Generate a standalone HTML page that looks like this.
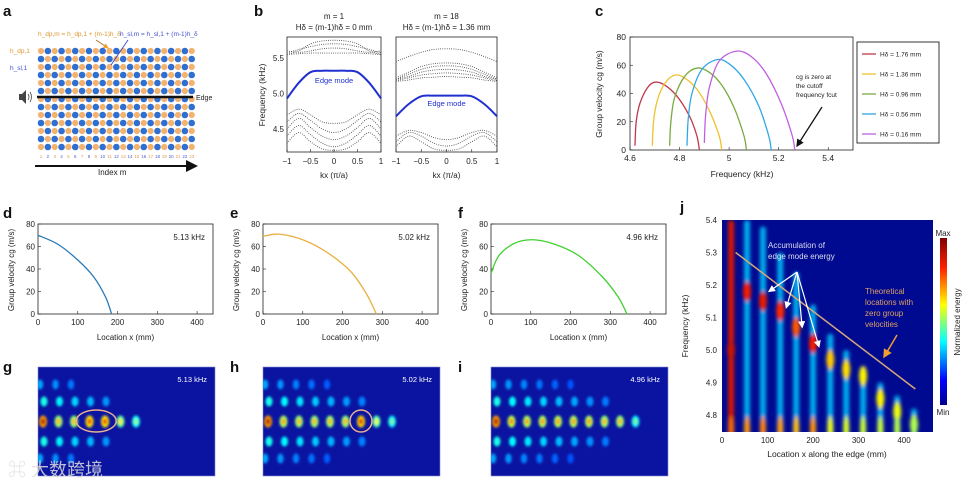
<!DOCTYPE html>
<html><head><meta charset="utf-8"><style>
body{margin:0;background:#fff;}
svg{display:block;font-family:"Liberation Sans","Noto Sans CJK SC",sans-serif;}
</style></head><body>
<svg id="fig" width="971" height="484" viewBox="0 0 971 484">
<defs>
<filter id="bl" x="-50%" y="-50%" width="200%" height="200%"><feGaussianBlur stdDeviation="1.8"/></filter>
<filter id="bl2" x="-50%" y="-50%" width="200%" height="200%"><feGaussianBlur stdDeviation="1.2"/></filter>
<linearGradient id="jet" x1="0" y1="1" x2="0" y2="0">
<stop offset="0" stop-color="#00008f"/><stop offset="0.15" stop-color="#0000ff"/><stop offset="0.38" stop-color="#00ffff"/>
<stop offset="0.6" stop-color="#ffff00"/><stop offset="0.82" stop-color="#ff2000"/><stop offset="1" stop-color="#800000"/></linearGradient>
<marker id="ab" markerWidth="6" markerHeight="6" refX="5" refY="3" orient="auto"><path d="M0,0L6,3L0,6z" fill="#111"/></marker>
<marker id="aw" markerWidth="6" markerHeight="6" refX="5" refY="3" orient="auto"><path d="M0,0L6,3L0,6z" fill="#fff"/></marker>
<marker id="ao" markerWidth="6" markerHeight="6" refX="5" refY="3" orient="auto"><path d="M0,0L6,3L0,6z" fill="#f0a030"/></marker>
</defs>
<g font-weight="bold" font-size="15" fill="#111">
<text x="3" y="16">a</text>
<text x="254" y="16">b</text>
<text x="595" y="16">c</text>
<text x="3" y="218">d</text>
<text x="230" y="218">e</text>
<text x="458" y="218">f</text>
<text x="3" y="372">g</text>
<text x="230" y="372">h</text>
<text x="458" y="372">i</text>
<text x="680" y="212">j</text>
</g>
<g id="pa"></g>
<g id="pb"></g>
<g id="pc"></g>
<g id="pdef"></g>
<g id="pghi"></g>
<g id="pj"></g>
<text x="8" y="476" font-size="18" fill="#ddd" opacity="0.85">⌘ 大数跨境</text>
</svg>
<script>
// ---- panel c data ----
const cLabels=["1.76 mm","1.36 mm","0.96 mm","0.56 mm","0.16 mm"];
const cColors=["#c0394a","#f0c030","#7aaa40","#30a8e8","#c060e0"];
const cRed=[[4.62,3],[4.625,20],[4.64,33],[4.67,44],[4.70,48],[4.74,46],[4.79,38],[4.84,24],[4.87,10],[4.88,0]];
const cYellow=[[4.69,3],[4.695,20],[4.71,35],[4.74,47],[4.78,53],[4.82,51],[4.87,43],[4.92,28],[4.96,10],[4.97,0]];
const cGreen=[[4.76,3],[4.765,20],[4.78,37],[4.82,52],[4.87,58],[4.92,55],[4.97,46],[5.02,30],[5.06,10],[5.07,0]];
const cBlue=[[4.83,3],[4.835,22],[4.85,40],[4.89,57],[4.95,64],[5.0,61],[5.06,50],[5.12,31],[5.16,10],[5.17,0]];
const cPurple=[[4.90,5],[4.905,24],[4.92,44],[4.96,63],[5.03,70],[5.09,66],[5.15,54],[5.21,33],[5.255,10],[5.265,0]];
const cSeries=[cRed,cYellow,cGreen,cBlue,cPurple];
const cXTicks=[4.6,4.8,5,5.2,5.4];
const cYTicks=[0,20,40,60,80];
// ---- panels d,e,f ----
const dPts=[[0,70],[50,62],[100,48],[140,33],[170,15],[185,0]];
const ePts=[[0,69],[40,71],[100,66],[160,55],[220,38],[260,18],[285,0]];
const fPts=[[0,36],[20,52],[60,63],[105,66],[160,62],[220,52],[280,33],[320,15],[342,0]];
const defFreqs=["5.13 kHz","5.02 kHz","4.96 kHz"];
const defXTicks=[0,100,200,300,400];
const defYTicks=[0,20,40,60,80];
// ---- panel b ----
const bK=[-1,-0.75,-0.5,-0.25,0,0.25,0.5,0.75,1];
const bEdgeL=[4.93,5.15,5.30,5.32,5.32,5.32,5.30,5.15,4.93];
const bEdgeR=[4.68,4.85,4.96,4.97,4.97,4.97,4.96,4.85,4.68];
const bBandsL=[[5.55,5.6,5.7,5.74,5.75,5.74,5.7,5.6,5.55],[5.57,5.62,5.66,5.69,5.7,5.69,5.66,5.62,5.57],[5.6,5.58,5.6,5.63,5.64,5.63,5.6,5.58,5.6],[5.55,5.56,5.57,5.57,5.57,5.57,5.57,5.56,5.55],
 [4.7,4.78,4.7,4.6,4.58,4.6,4.7,4.78,4.7],[4.6,4.72,4.62,4.5,4.45,4.5,4.62,4.72,4.6],[4.5,4.65,4.52,4.4,4.35,4.4,4.52,4.65,4.5],[4.4,4.55,4.42,4.3,4.25,4.3,4.42,4.55,4.4],[4.3,4.45,4.32,4.22,4.2,4.22,4.32,4.45,4.3]];
const bBandsR=[[5.45,5.52,5.58,5.62,5.63,5.62,5.58,5.52,5.45],[5.22,5.3,5.38,5.42,5.43,5.42,5.38,5.3,5.22],[5.2,5.27,5.34,5.38,5.39,5.38,5.34,5.27,5.2],[5.2,5.24,5.3,5.33,5.34,5.33,5.3,5.24,5.2],[5.18,5.22,5.26,5.28,5.29,5.28,5.26,5.22,5.18],[5.17,5.19,5.22,5.23,5.24,5.23,5.22,5.19,5.17],
 [4.4,4.48,4.45,4.38,4.35,4.38,4.45,4.48,4.4],[4.32,4.45,4.4,4.3,4.26,4.3,4.4,4.45,4.32],[4.25,4.4,4.32,4.22,4.2,4.22,4.32,4.4,4.25]];
const bXTicks=[-1,-0.5,0,0.5,1];
const bYTicks=[4.5,5.0,5.5];
// ---- panel j ----
const jStripeX=[20,55,90,128,163,200,238,273,310,348,385,422];
const jStripeTop=[5.4,5.4,5.38,5.3,5.24,5.14,5.05,5.0,4.95,4.9,4.86,4.82];
const jHotF=[5.0,5.18,5.15,5.12,5.07,5.02,4.97,4.94,4.92,4.85,4.81,4.77];
const jHotLevel=[1,0.85,0.9,0.8,0.7,0.85,0.45,0.4,0.35,0.35,0.3,0.25];
const jXTicks=[0,100,200,300,400];
const jYTicks=[4.8,4.9,5.0,5.1,5.2,5.3,5.4];
// ---- panels g,h,i ----
const gLevel=[1,0.5,0.5,0.8,0.8,0.4,0.2];
const hLevel=[1,0.55,0.5,0.5,0.5,0.5,0.85,0.35,0.15];
const iLevel=[1,0.6,0.55,0.55,0.55,0.55,0.55,0.5,0.5,0.15];

const NS="http://www.w3.org/2000/svg";
function mk(p,t,a,txt){const e=document.createElementNS(NS,t);for(const k in a)e.setAttribute(k,a[k]);if(txt!==undefined)e.textContent=txt;p.appendChild(e);return e;}
function lin(d0,d1,r0,r1){return v=>r0+(v-d0)/(d1-d0)*(r1-r0);}
function smooth(pts){let d="M"+pts[0][0]+","+pts[0][1];for(let i=0;i<pts.length-1;i++){const p0=pts[i-1]||pts[i],p1=pts[i],p2=pts[i+1],p3=pts[i+2]||p2;
 d+=" C"+(p1[0]+(p2[0]-p0[0])/6)+","+(p1[1]+(p2[1]-p0[1])/6)+" "+(p2[0]-(p3[0]-p1[0])/6)+","+(p2[1]-(p3[1]-p1[1])/6)+" "+p2[0]+","+p2[1];}return d;}
function jet(v){const s=[[0,[0,0,143]],[0.15,[0,0,255]],[0.38,[0,255,255]],[0.6,[255,255,0]],[0.82,[255,32,0]],[1,[128,0,0]]];
 for(let i=0;i<s.length-1;i++){if(v<=s[i+1][0]){const t=(v-s[i][0])/(s[i+1][0]-s[i][0]);const c=s[i][1].map((x,j)=>Math.round(x+(s[i+1][1][j]-x)*t));return "rgb("+c.join(",")+")";}}return "rgb(128,0,0)";}

// ===== Panel a =====
(function(){const g=document.getElementById('pa');
 for(let i=0;i<23;i++){for(let j=0;j<13;j++){const x=41+i*6.85,y=51+j*8;const orange=(i+j)%2===0;
  const c=mk(g,'circle',{cx:x,cy:y,r:orange?3.1:3.3,fill:orange?'#f3b36e':'#2f6fd2'});
  
  }
  const t=mk(g,'text',{x:41+i*6.85,y:158,'font-size':4.5,'text-anchor':'middle',fill:i%2===0?'#e09a50':'#5060d0'},String(i+1));
  
  }
 mk(g,'line',{x1:37,y1:97,x2:193,y2:97,stroke:'#111','stroke-width':2.5,});
 mk(g,'text',{x:196,y:100,'font-size':7,fill:'#222',},'Edge');
 mk(g,'path',{d:'M19,94h3l4,-4v14l-4,-4h-3z',fill:'#444',});
 mk(g,'path',{d:'M28,94q2,3 0,6M30,92q3,5 0,10',fill:'none',stroke:'#444','stroke-width':0.8});
 mk(g,'line',{x1:35,y1:166,x2:196,y2:166,stroke:'#111','stroke-width':2,'marker-end':'url(#ab)',});
 mk(g,'text',{x:98,y:175,'font-size':8,fill:'#222',},'Index m');
 mk(g,'text',{x:38,y:36,'font-size':6.5,fill:'#e0962e',},'h_dp,m = h_dp,1 + (m-1)h_δ');
 mk(g,'text',{x:120,y:36,'font-size':6.5,fill:'#4050d0',},'h_sl,m = h_sl,1 + (m-1)h_δ');
 mk(g,'text',{x:10,y:53,'font-size':6.5,fill:'#e0962e',},'h_dp,1');
 mk(g,'text',{x:10,y:70,'font-size':6.5,fill:'#4050d0',},'h_sl,1');
 mk(g,'line',{x1:96,y1:40,x2:108,y2:48,stroke:'#b07020','stroke-width':0.9,'marker-end':'url(#ao)'});
 mk(g,'line',{x1:128,y1:40,x2:111,y2:65,stroke:'#3040d0','stroke-width':0.9});
})();

// ===== Panel b =====
(function(){const g=document.getElementById('pb');
 function sub(x0,x1,edge,bands,title1,title2,edgeLabelY,showY){
  const X=lin(-1,1,x0,x1),Y=lin(5.5,4.5,58,129);
  mk(g,'rect',{x:x0,y:37,width:x1-x0,height:115,fill:'none',stroke:'#222','stroke-width':0.8});
  const cl='cb'+x0;const cp=mk(g,'clipPath',{id:cl});mk(cp,'rect',{x:x0,y:37,width:x1-x0,height:115});
  bands.forEach(b=>{const p=mk(g,'path',{d:smooth(bK.map((k,i)=>[X(k),Y(b[i])])),fill:'none',stroke:'#333','stroke-width':0.9,'stroke-dasharray':'0.8 1.4','clip-path':'url(#'+cl+')'});
   
   });
  const e=mk(g,'path',{d:smooth(bK.map((k,i)=>[X(k),Y(edge[i])])),fill:'none',stroke:'#2030d0','stroke-width':2});
  
  
  mk(g,'text',{x:(x0+x1)/2,y:edgeLabelY,'font-size':7.5,fill:'#2030d0','text-anchor':'middle'},'Edge mode');
  bXTicks.forEach(t=>{mk(g,'text',{x:X(t),y:164,'font-size':8,'text-anchor':'middle',fill:'#222'},t<0?'−'+(-t):String(t));
   mk(g,'line',{x1:X(t),y1:152,x2:X(t),y2:149,stroke:'#222','stroke-width':0.6});});
  if(showY)bYTicks.forEach(t=>{mk(g,'text',{x:x0-3,y:Y(t)+3,'font-size':8,'text-anchor':'end',fill:'#222'},t.toFixed(1));});
  mk(g,'text',{x:(x0+x1)/2,y:178,'font-size':8,'text-anchor':'middle',fill:'#222'},'kx (π/a)');
  mk(g,'text',{x:(x0+x1)/2,y:19,'font-size':8,'text-anchor':'middle',fill:'#222'},title1);
  mk(g,'text',{x:(x0+x1)/2,y:30,'font-size':8,'text-anchor':'middle',fill:'#222'},title2);}
 sub(287,381,bEdgeL,bBandsL,'m = 1','Hδ = (m-1)hδ = 0 mm',83,true);
 sub(396,497,bEdgeR,bBandsR,'m = 18','Hδ = (m-1)hδ = 1.36 mm',106,false);
 mk(g,'text',{x:0,y:0,'font-size':8.5,fill:'#222',transform:'translate(265,95) rotate(-90)','text-anchor':'middle',},'Frequency (kHz)');
})();

// ===== Panel c =====
(function(){const g=document.getElementById('pc');
 const X=lin(4.6,5.5,630,853),Y=lin(0,80,150,37);
 mk(g,'rect',{x:630,y:37,width:223,height:113,fill:'none',stroke:'#222','stroke-width':0.8,});
 cXTicks.forEach(t=>{mk(g,'text',{x:X(t),y:161,'font-size':8.5,'text-anchor':'middle',fill:'#222'},String(t));mk(g,'line',{x1:X(t),y1:150,x2:X(t),y2:147,stroke:'#222','stroke-width':0.6});});
 cYTicks.forEach(t=>{mk(g,'text',{x:626,y:Y(t)+3,'font-size':8.5,'text-anchor':'end',fill:'#222'},String(t));mk(g,'line',{x1:630,y1:Y(t),x2:633,y2:Y(t),stroke:'#222','stroke-width':0.6});});
 cSeries.forEach((s,i)=>{const p=mk(g,'path',{d:smooth(s.map(q=>[X(q[0]),Y(q[1])])),fill:'none',stroke:cColors[i],'stroke-width':1.3});
  
  });
 mk(g,'text',{x:742,y:177,'font-size':8.5,'text-anchor':'middle',fill:'#222',},'Frequency (kHz)');
 mk(g,'text',{x:0,y:0,'font-size':8.5,'text-anchor':'middle',fill:'#222',transform:'translate(602,94) rotate(-90)',},'Group velocity cg (m/s)');
 mk(g,'text',{x:796,y:79,'font-size':6.5,fill:'#222'},'cg is zero at');
 mk(g,'text',{x:796,y:88,'font-size':6.5,fill:'#222'},'the cutoff');
 mk(g,'text',{x:796,y:97,'font-size':6.5,fill:'#222'},'frequency fcut');
 mk(g,'line',{x1:822,y1:107,x2:797,y2:146,stroke:'#111','stroke-width':1.3,'marker-end':'url(#ab)',});
 mk(g,'rect',{x:857,y:42,width:82,height:101,fill:'#fff',stroke:'#222','stroke-width':0.9,});
 cLabels.forEach((l,i)=>{const y=54+i*20;mk(g,'line',{x1:862,y1:y,x2:876,y2:y,stroke:cColors[i],'stroke-width':1.3});
  const t=mk(g,'text',{x:880,y:y+2.5,'font-size':6.5,fill:'#222'},'Hδ = '+l);
  
  });
})();

// ===== Panels d,e,f =====
(function(){const g=document.getElementById('pdef');
 const sets=[[38,dPts,'#2a7ab8'],[263,ePts,'#e8b040'],[491,fPts,'#40d030']];
 sets.forEach((s,k)=>{const x0=s[0],w=175;const X=lin(0,440,x0,x0+w),Y=lin(0,80,314,224);
  mk(g,'rect',{x:x0,y:224,width:w,height:90,fill:'none',stroke:'#222','stroke-width':0.8});
  defXTicks.forEach(t=>{mk(g,'text',{x:X(t),y:325,'font-size':8,'text-anchor':'middle',fill:'#222'},String(t));mk(g,'line',{x1:X(t),y1:314,x2:X(t),y2:311,stroke:'#222','stroke-width':0.6});});
  defYTicks.forEach(t=>{mk(g,'text',{x:x0-3,y:Y(t)+3,'font-size':8,'text-anchor':'end',fill:'#222'},String(t));mk(g,'line',{x1:x0,y1:Y(t),x2:x0+3,y2:Y(t),stroke:'#222','stroke-width':0.6});});
  const p=mk(g,'path',{d:smooth(s[1].map(q=>[X(q[0]),Y(q[1])])),fill:'none',stroke:s[2],'stroke-width':1.3});
  
  
  mk(g,'text',{x:x0+w-8,y:240,'font-size':8,'text-anchor':'end',fill:'#222'},defFreqs[k]);
  mk(g,'text',{x:x0+w/2,y:340,'font-size':8,'text-anchor':'middle',fill:'#222'},'Location x (mm)');
  mk(g,'text',{x:0,y:0,'font-size':8,'text-anchor':'middle',fill:'#222',transform:'translate('+(x0-24)+',270) rotate(-90)'},'Group velocity cg (m/s)');});
})();

// ===== Panels g,h,i =====
(function(){const g=document.getElementById('pghi');
 const sets=[[38,gLevel],[263,hLevel],[491,iLevel]];
 sets.forEach((s,k)=>{const x0=s[0],w=177,y0=367,h=109,cy=y0+h/2;
  const cl='cg'+k;const cp=mk(g,'clipPath',{id:cl});mk(cp,'rect',{x:x0,y:y0,width:w,height:h});
  mk(g,'rect',{x:x0,y:y0,width:w,height:h,fill:'#0a14a0',stroke:'#8888cc','stroke-width':0.6,});
  const gg=mk(g,'g',{'clip-path':'url(#'+cl+')',filter:'url(#bl2)'});
  const n=s[1].length;
  s[1].forEach((lv,i)=>{const x=x0+5+i*15.5;
   const b=mk(gg,'ellipse',{cx:x,cy:cy,rx:4,ry:6,fill:jet(0.3+lv*0.4)});
   
   
   mk(gg,'ellipse',{cx:x,cy:cy,rx:2,ry:3,fill:jet(0.4+lv*0.55)});
   if(i<n-2){const f=1-i/n;[-1,1].forEach(sg=>{mk(gg,'ellipse',{cx:x+1,cy:cy+sg*20,rx:3.5,ry:5,fill:jet(0.2+0.2*f)});
    if(i<n-4)mk(gg,'ellipse',{cx:x-3,cy:cy+sg*37,rx:3.2,ry:5,fill:jet(0.15+0.15*f)});});}});
  mk(g,'text',{x:x0+w-8,y:y0+15,'font-size':7.5,'text-anchor':'end',fill:'#fff'},defFreqs[k]);});
 mk(g,'ellipse',{cx:38+5+3.5*15.5-1,cy:421,rx:20,ry:11,fill:'none',stroke:'#e8b090','stroke-width':1.5,});
 mk(g,'circle',{cx:263+5+6*15.5,cy:421,r:11,fill:'none',stroke:'#e8b090','stroke-width':1.5,});
})();

// ===== Panel j =====
(function(){const g=document.getElementById('pj');
 const X=lin(0,400,722,904),Y=lin(5.4,4.8,220,415);
 const x0=722,x1=933,y0=220,y1=432;
 mk(g,'rect',{x:x0,y:y0,width:x1-x0,height:y1-y0,fill:'#000a90',});
 const cp=mk(g,'clipPath',{id:'cj'});mk(cp,'rect',{x:x0,y:y0,width:x1-x0,height:y1-y0});
 const gg=mk(g,'g',{'clip-path':'url(#cj)',filter:'url(#bl)'});
 jStripeX.forEach((sx,i)=>{const x=X(sx);const top=Y(jStripeTop[i]);
  const r=mk(gg,'rect',{x:x-3,y:top,width:6,height:y1-top+5,rx:3,fill:i===0?jet(0.88):jet(0.33),opacity:i===0?1:0.85});
  
  
  const hy=Y(jHotF[i]);
  mk(gg,'ellipse',{cx:x,cy:hy,rx:4,ry:10,fill:jet(0.45+jHotLevel[i]*0.45)});
  mk(gg,'ellipse',{cx:x,cy:y1-4,rx:3,ry:12,fill:jet(0.45+jHotLevel[i]*0.3)});});
 mk(g,'line',{x1:X(30),y1:Y(5.3),x2:X(425),y2:Y(4.88),stroke:'#d8a878','stroke-width':1.5,});
 mk(g,'text',{x:768,y:248,'font-size':8,fill:'#dde'},'Accumulation of');
 mk(g,'text',{x:768,y:259,'font-size':8,fill:'#dde'},'edge mode energy');
 [[90,5.18],[128,5.13],[163,5.07],[200,5.01]].forEach(p=>{const a=mk(g,'line',{x1:797,y1:272,x2:X(p[0])+6,y2:Y(p[1]),stroke:'#fff','stroke-width':1.2,'marker-end':'url(#aw)'});
  
  });
 mk(g,'text',{x:865,y:294,'font-size':8,fill:'#e0a060'},'Theoretical');
 mk(g,'text',{x:865,y:305,'font-size':8,fill:'#e0a060'},'locations with');
 mk(g,'text',{x:865,y:316,'font-size':8,fill:'#e0a060'},'zero group');
 mk(g,'text',{x:865,y:327,'font-size':8,fill:'#e0a060'},'velocities');
 mk(g,'line',{x1:897,y1:335,x2:884,y2:357,stroke:'#f0a030','stroke-width':1.5,'marker-end':'url(#ao)'});
 jXTicks.forEach(t=>{mk(g,'text',{x:X(t),y:443,'font-size':8,'text-anchor':'middle',fill:'#222'},String(t));});
 jYTicks.forEach(t=>{mk(g,'text',{x:717,y:Y(t)+3,'font-size':8,'text-anchor':'end',fill:'#222'},t.toFixed(1));});
 mk(g,'text',{x:827,y:457,'font-size':8.5,'text-anchor':'middle',fill:'#222',},'Location x along the edge (mm)');
 mk(g,'text',{x:0,y:0,'font-size':8.5,'text-anchor':'middle',fill:'#222',transform:'translate(688,326) rotate(-90)',},'Frequency (kHz)');
 mk(g,'rect',{x:940,y:238,width:7,height:167,fill:'url(#jet)',});
 mk(g,'text',{x:943,y:236,'font-size':8,'text-anchor':'middle',fill:'#222'},'Max');
 mk(g,'text',{x:943,y:415,'font-size':8,'text-anchor':'middle',fill:'#222'},'Min');
 mk(g,'text',{x:0,y:0,'font-size':8,'text-anchor':'middle',fill:'#222',transform:'translate(960,322) rotate(-90)'},'Normalized energy');
})();
</script>
</body></html>
